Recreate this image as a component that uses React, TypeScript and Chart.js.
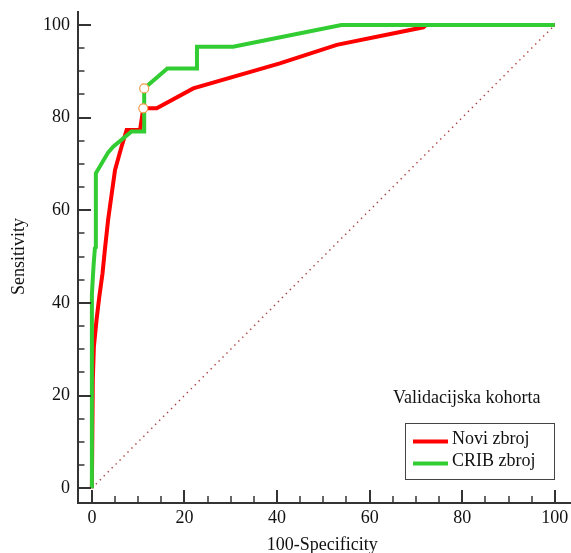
import React, { useEffect, useRef } from 'react';
import { Chart, registerables } from 'chart.js';

Chart.register(...registerables);

// ---- data ----
const seriesNames = ['Novi zbroj', 'CRIB zbroj'];
const legendTitle = 'Validacijska kohorta';
const xTitle = '100-Specificity';
const yTitle = 'Sensitivity';

const noviX = [0, 0.2, 0.43, 1.0, 1.6, 2.3, 2.8, 3.5, 3.9, 5.0, 6.4, 7.5, 10.4, 11.1, 14.0, 15.3, 21.9, 40.6, 52.9, 71.6, 72.2, 100];
const noviY = [0, 23.3, 30.5, 36.3, 41.3, 46.4, 51.4, 57.9, 60.8, 68.7, 73.7, 77.3, 77.3, 82.0, 82.0, 82.7, 86.3, 91.7, 95.7, 99.5, 100, 100];

const cribX = [0, 0, 0.2, 0.4, 0.65, 0.86, 0.86, 3.46, 4.6, 8.57, 11.3, 11.3, 16.3, 22.7, 22.7, 30.5, 53.9, 100];
const cribY = [0, 41.7, 45.4, 48.6, 51.8, 52.0, 68.0, 72.4, 73.7, 77.0, 77.0, 86.3, 90.6, 90.6, 95.3, 95.3, 100, 100];

const diagX = [0, 100];
const diagY = [0, 100];

const cutoffX = [11.1, 11.3];
const cutoffY = [82.0, 86.3];

const labelTicks = [0, 20, 40, 60, 80, 100];
const allTicks = [0, 5, 10, 15, 20, 25, 30, 35, 40, 45, 50, 55, 60, 65, 70, 75, 80, 85, 90, 95, 100];

const RED = '#ff0000';
const GREEN = 'rgb(50,205,50)';
const FONT = '"Liberation Serif", "Times New Roman", serif';

const toPts = (xs: number[], ys: number[]) => xs.map((x, i) => ({ x, y: ys[i] }));

const decorPlugin = {
  id: 'decor',
  afterDraw(chart: any) {
    const ctx: CanvasRenderingContext2D = chart.ctx;
    const xs = chart.scales.x;
    const ys = chart.scales.y;
    const area = chart.chartArea;
    ctx.save();
    ctx.strokeStyle = '#333';
    for (const v of allTicks) {
      const major = labelTicks.includes(v);
      ctx.lineWidth = major ? 2 : 1.5;
      const px = Math.round(xs.getPixelForValue(v));
      ctx.beginPath();
      ctx.moveTo(px, area.bottom);
      ctx.lineTo(px, area.bottom - (major ? 12.5 : 6.5));
      ctx.stroke();
      const py = Math.round(ys.getPixelForValue(v));
      ctx.beginPath();
      ctx.moveTo(area.left, py);
      ctx.lineTo(area.left + (major ? 13 : 6.5), py);
      ctx.stroke();
    }
    // axis titles
    ctx.fillStyle = '#111';
    ctx.font = `18px ${FONT}`;
    ctx.textAlign = 'center';
    ctx.textBaseline = 'alphabetic';
    ctx.fillText(xTitle, (xs.getPixelForValue(0) + xs.getPixelForValue(100)) / 2 - 1, 549.5);
    ctx.save();
    ctx.translate(24, (ys.getPixelForValue(0) + ys.getPixelForValue(100)) / 2);
    ctx.rotate(-Math.PI / 2);
    ctx.fillText(yTitle, 0, 0);
    ctx.restore();

    // legend
    ctx.textAlign = 'left';
    ctx.fillText(legendTitle, 393, 403);
    ctx.lineWidth = 1;
    ctx.strokeStyle = '#444';
    ctx.strokeRect(405.5, 423.5, 149, 56);
    const colors = [RED, GREEN];
    const ysL = [441.5, 463.5];
    const baseL = [443.5, 466];
    seriesNames.forEach((name, i) => {
      ctx.strokeStyle = colors[i];
      ctx.lineWidth = 4;
      ctx.beginPath();
      ctx.moveTo(413, ysL[i]);
      ctx.lineTo(448, ysL[i]);
      ctx.stroke();
      ctx.fillStyle = '#111';
      ctx.fillText(name, 452, baseL[i]);
    });
    ctx.restore();
  },
};

export default function App() {
  const ref = useRef<HTMLCanvasElement>(null);
  useEffect(() => {
    if (!ref.current) return;
    const chart = new Chart(ref.current, {
      type: 'line',
      data: {
        datasets: [
          {
            label: 'cutoff',
            data: toPts(cutoffX, cutoffY),
            showLine: false,
            pointRadius: 4.5,
            pointBorderWidth: 1.2,
            pointBorderColor: '#f39c4a',
            pointBackgroundColor: '#ffffff',
            order: 0,
          },
          {
            label: seriesNames[1],
            data: toPts(cribX, cribY),
            borderColor: GREEN,
            borderWidth: 4,
            pointRadius: 0,
            tension: 0,
            fill: false,
            order: 1,
          },
          {
            label: seriesNames[0],
            data: toPts(noviX, noviY),
            borderColor: RED,
            borderWidth: 4,
            pointRadius: 0,
            tension: 0,
            fill: false,
            order: 2,
          },
          {
            label: 'diag',
            data: toPts(diagX, diagY),
            borderColor: '#b03a3a',
            borderWidth: 1.4,
            borderDash: [1.4, 4.2],
            pointRadius: 0,
            fill: false,
            order: 3,
          },
        ],
      } as any,
      options: {
        animation: false,
        responsive: false,
        maintainAspectRatio: false,
        layout: { autoPadding: false, padding: { top: 12, right: 0, bottom: 0, left: 0 } },
        plugins: { legend: { display: false }, tooltip: { enabled: false } },
        scales: {
          x: {
            type: 'linear',
            min: -3,
            max: 103.5,
            grid: { display: true, drawOnChartArea: false, drawTicks: false },
            border: { display: true, color: '#333', width: 2 },
            ticks: { font: { family: FONT, size: 18 }, color: '#111', padding: 5, maxRotation: 0 },
            afterBuildTicks: (s: any) => {
              s.ticks = labelTicks.map((v) => ({ value: v }));
            },
            afterFit: (s: any) => {
              s.height = 50.5;
              s.paddingLeft = 0;
              s.paddingRight = 0;
              s.paddingTop = 0;
              s.paddingBottom = 0;
            },
          },
          y: {
            type: 'linear',
            min: -3.1,
            max: 102.8,
            grid: { display: true, drawOnChartArea: false, drawTicks: false },
            border: { display: true, color: '#333', width: 2 },
            ticks: { font: { family: FONT, size: 18 }, color: '#111', padding: 8 },
            afterBuildTicks: (s: any) => {
              s.ticks = labelTicks.map((v) => ({ value: v }));
            },
            afterFit: (s: any) => {
              s.width = 78;
              s.paddingLeft = 0;
              s.paddingRight = 0;
              s.paddingTop = 0;
              s.paddingBottom = 0;
            },
          },
        },
      } as any,
      plugins: [decorPlugin],
    });
    return () => chart.destroy();
  }, []);
  return (
    <div style={{ position: 'absolute', left: 0, top: 0, width: 571, height: 553 }}>
      <canvas ref={ref} width={571} height={553} style={{ display: 'block' }} />
    </div>
  );
}
